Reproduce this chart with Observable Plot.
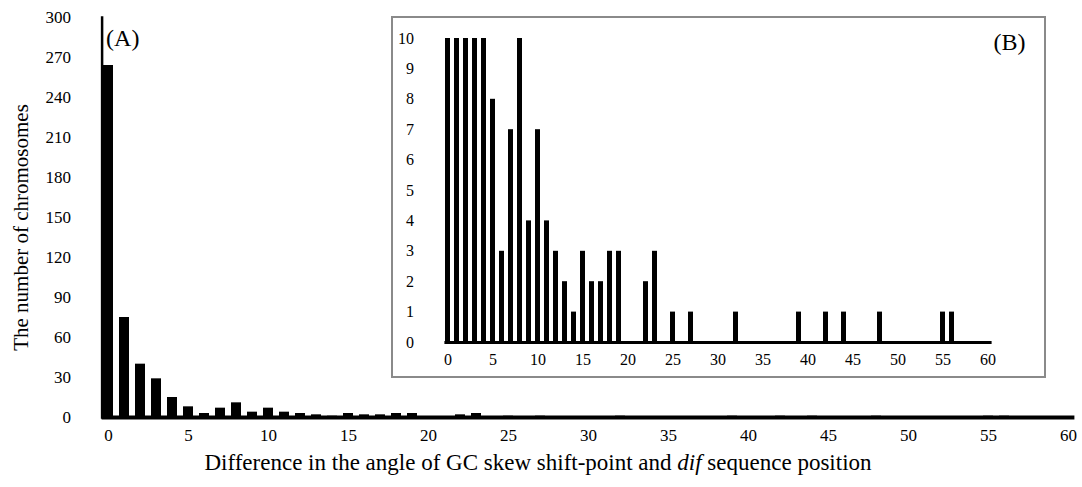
<!DOCTYPE html>
<html>
<head>
<meta charset="utf-8">
<script src="https://cdn.jsdelivr.net/npm/d3@7"></script>
<script src="https://cdn.jsdelivr.net/npm/@observablehq/plot@0.6"></script>
<style>
  body { margin: 0; background: #fff; font-family: "Liberation Serif", "DejaVu Serif", serif; }
  #wrap { position: relative; width: 1082px; height: 487px; }
  #main { position: absolute; left: 0; top: 0; }
  #inset { position: absolute; left: 391px; top: 16px; width: 651px; height: 358px; border: 2px solid #8a8a8a; background: #fff; }
  #xtitle { position: absolute; left: 0; width: 1076px; top: 450px; text-align: center; font-size: 23px; color: #000; }
</style>
</head>
<body>
<div id="wrap">
  <div id="main"></div>
  <div id="inset"></div>
  <div id="xtitle">Difference in the angle of GC skew shift-point and <i>dif</i> sequence position</div>
</div>
<script>
// Angle difference categories (degrees) and number of chromosomes
const angles = d3.range(0, 61);
const counts = [
  264, 75, 40, 29, 15, 8, 3, 7, 11, 4,
  7, 4, 3, 2, 1, 3, 2, 2, 3, 3,
  0, 0, 2, 3, 0, 1, 0, 1, 0, 0,
  0, 0, 1, 0, 0, 0, 0, 0, 0, 1,
  0, 0, 1, 0, 1, 0, 0, 0, 1, 0,
  0, 0, 0, 0, 0, 1, 1, 0, 0, 0,
  0
];
const xTicks = [0, 5, 10, 15, 20, 25, 30, 35, 40, 45, 50, 55, 60];
const yTicksMain = [0, 30, 60, 90, 120, 150, 180, 210, 240, 270, 300];
const yTicksInset = [0, 1, 2, 3, 4, 5, 6, 7, 8, 9, 10];
const yTitle = "The number of chromosomes";
const panelA = "(A)";
const panelB = "(B)";

const data = angles.map((a, i) => ({angle: a, n: counts[i]}));
const font = "'Liberation Serif', 'DejaVu Serif', serif";

const main = Plot.plot({
  width: 1082,
  height: 445,
  marginLeft: 101.6,
  marginRight: 7.6,
  marginTop: 17,
  marginBottom: 28,
  style: {fontFamily: font, fontSize: "17px", color: "#000", background: "transparent", overflow: "visible"},
  x: {type: "band", domain: angles, paddingInner: 0.4, paddingOuter: 0.1, label: null},
  y: {domain: [0, 300], label: null},
  marks: [
    Plot.barY(data, {x: "angle", y: "n", fill: "#000"}),
    Plot.ruleY([0], {stroke: "#000", strokeWidth: 4}),
    Plot.frame({anchor: "left", stroke: "#000", strokeWidth: 2.5}),
    Plot.axisY({ticks: yTicksMain, tickSize: 0, tickPadding: 31, label: null, fontSize: 17}),
    Plot.axisX({ticks: xTicks, tickSize: 0, tickPadding: 11, label: null, fontSize: 17}),
    Plot.text([panelA], {frameAnchor: "top-left", dx: 4, dy: 21, textAnchor: "start", lineAnchor: "middle", fontSize: 24}),
    Plot.text([yTitle], {frameAnchor: "left", rotate: -90, dx: -81, dy: 10, textAnchor: "middle", lineAnchor: "middle", fontSize: 21})
  ]
});
document.getElementById("main").appendChild(main);

const inset = Plot.plot({
  width: 651,
  height: 358,
  marginLeft: 51.4,
  marginRight: 52.4,
  marginTop: 20,
  marginBottom: 34,
  style: {fontFamily: font, fontSize: "16px", color: "#000", background: "#fff", overflow: "visible"},
  x: {type: "band", domain: angles, paddingInner: 0.4, paddingOuter: 0.1, label: null},
  y: {domain: [0, 10], clamp: true, label: null},
  marks: [
    Plot.barY(data, {x: "angle", y: "n", fill: "#000"}),
    Plot.ruleY([0], {stroke: "#000", strokeWidth: 3}),
    Plot.axisY({ticks: yTicksInset, tickSize: 0, tickPadding: 31, label: null, fontSize: 16}),
    Plot.axisX({ticks: xTicks, tickSize: 0, tickPadding: 11, label: null, fontSize: 16}),
    Plot.text([panelB], {frameAnchor: "top-right", dx: 33.4, dy: 4, textAnchor: "end", lineAnchor: "middle", fontSize: 24})
  ]
});
document.getElementById("inset").appendChild(inset);
</script>
</body>
</html>
